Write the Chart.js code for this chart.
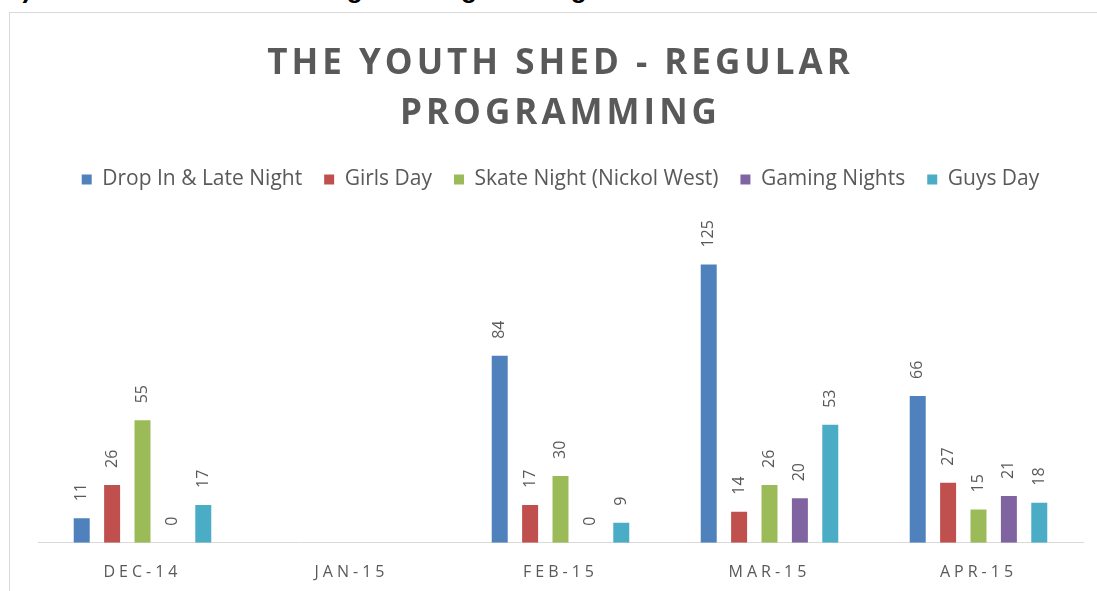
<!DOCTYPE html>
<html>
<head>
<meta charset="utf-8">
<script src="https://cdn.jsdelivr.net/npm/chart.js@4.4.1/dist/chart.umd.min.js"></script>
<style>
  html, body { margin: 0; padding: 0; background: #fff; overflow: hidden; }
  #heading { position: absolute; left: 0; top: -24px; height: 30px; width: 1097px;
    font: bold 26px "Liberation Sans", Arial, sans-serif; line-height: 26px; color: #000; white-space: pre; }
  #heading span { position: absolute; top: 0; }
  #frame { position: absolute; left: 9px; top: 12px; width: 1200px; height: 700px; border: 1px solid #d9d9d9; }
  #wrap { position: absolute; left: 0; top: 0; width: 1097px; height: 591px; }
</style>
</head>
<body>
<div id="heading"><span style="left:8px">e)</span><span style="left:95px">The Youth Shed - Regular Programming</span></div>
<div id="frame"></div>
<div id="wrap"><canvas id="myChart" width="1097" height="591"></canvas></div>
<script>
// chart values
const titleLines = ['THE YOUTH SHED - REGULAR', 'PROGRAMMING'];
const months = ['DEC-14', 'JAN-15', 'FEB-15', 'MAR-15', 'APR-15'];
const seriesNames = ['Drop In & Late Night', 'Girls Day', 'Skate Night (Nickol West)', 'Gaming Nights', 'Guys Day'];
const dropIn = [11, null, 84, 125, 66];
const girlsDay = [26, null, 17, 14, 27];
const skateNight = [55, null, 30, 26, 15];
const gamingNights = [0, null, 0, 20, 21];
const guysDay = [17, null, 9, 53, 18];
const colors = ['#4F81BD', '#C0504D', '#9BBB59', '#8064A2', '#4BACC6'];

const grey = '#595959';
const font = '"Open Sans", "Noto Sans", sans-serif';

// rotated value labels above each bar
const barLabels = {
  id: 'barLabels',
  afterDatasetsDraw(chart) {
    const ctx = chart.ctx;
    ctx.save();
    ctx.font = '16px ' + font;
    ctx.fillStyle = grey;
    ctx.textAlign = 'left';
    ctx.textBaseline = 'middle';
    chart.data.datasets.forEach((ds, i) => {
      chart.getDatasetMeta(i).data.forEach((bar, j) => {
        const v = ds.data[j];
        if (v === null || v === undefined) return;
        ctx.save();
        ctx.translate(bar.x, bar.y - 17);
        ctx.rotate(-Math.PI / 2);
        ctx.fillText(String(v), 0, 0);
        ctx.restore();
      });
    });
    ctx.restore();
  }
};

// letter spacing for the title and the month labels
function spaced(obj, fn, px) {
  if (!obj || obj['_sp_' + fn]) return;
  const orig = obj[fn];
  obj[fn] = function (...args) {
    const c = this.ctx;
    c.save();
    c.letterSpacing = px;
    orig.apply(this, args);
    c.restore();
  };
  obj['_sp_' + fn] = true;
}
const letterSpacing = {
  id: 'letterSpacing',
  afterLayout(chart) {
    spaced(chart.titleBlock, 'draw', '4px');
    spaced(chart.scales.x, 'drawLabels', '4px');
  }
};

const series = [dropIn, girlsDay, skateNight, gamingNights, guysDay];

const ctx = document.getElementById('myChart').getContext('2d');
new Chart(ctx, {
  type: 'bar',
  data: {
    labels: months,
    datasets: series.map((d, i) => ({
      label: seriesNames[i],
      data: d,
      backgroundColor: colors[i],
      borderWidth: 0,
      categoryPercentage: 0.727,
      barPercentage: 0.526
    }))
  },
  options: {
    responsive: false,
    animation: false,
    devicePixelRatio: 1,
    layout: { padding: { top: 12, left: 38, right: 14, bottom: -11 } },
    plugins: {
      title: {
        display: true,
        text: titleLines,
        color: grey,
        font: { family: font, size: 35, weight: 'bold', lineHeight: '50px' },
        padding: { top: 27, bottom: 8 }
      },
      legend: {
        position: 'top',
        labels: {
          boxWidth: 10,
          boxHeight: 10,
          padding: 22,
          color: grey,
          font: { family: font, size: 21 }
        }
      },
      tooltip: { enabled: false }
    },
    scales: {
      x: {
        grid: { display: false, drawTicks: false },
        border: { display: true, color: '#d9d9d9', width: 1 },
        ticks: { color: grey, padding: 20, font: { family: font, size: 16 } }
      },
      y: {
        display: false,
        min: 0,
        max: 154
      }
    }
  },
  plugins: [barLabels, letterSpacing]
});
</script>
</body>
</html>
